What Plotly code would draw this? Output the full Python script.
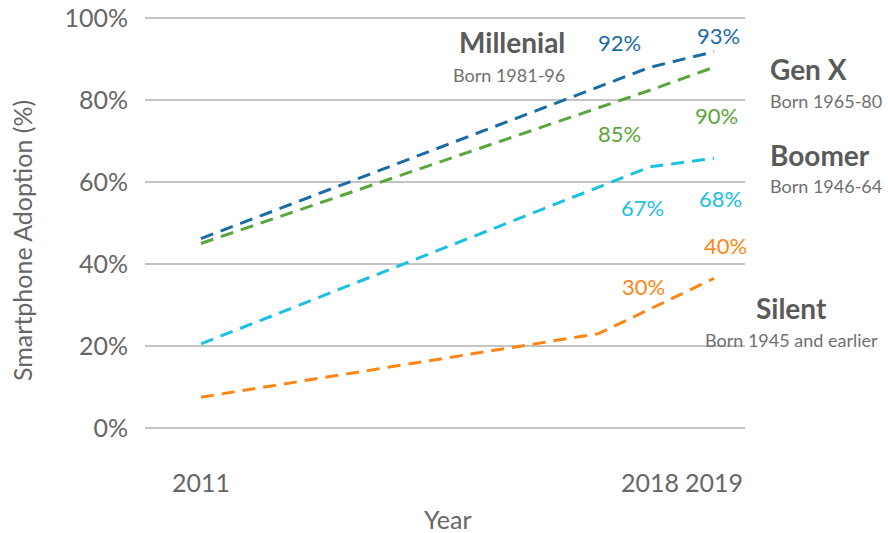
import plotly.graph_objects as go

# ---- data ----
generations = ["Millenial", "Gen X", "Boomer", "Silent"]
born = ["Born 1981-96", "Born 1965-80", "Born 1946-64", "Born 1945 and earlier"]
years_millenial = [2011, 2018, 2019]
millenial = [46.2, 88.0, 91.8]
years_genx = [2011, 2018, 2019]
genx = [45.0, 82.4, 88.0]
years_boomer = [2011, 2018, 2019]
boomer = [20.5, 63.7, 65.8]
years_silent = [2011, 2017.2, 2019]
silent = [7.5, 23.0, 36.5]
label_2018 = ["92%", "85%", "67%", "30%"]
label_2019 = ["93%", "90%", "68%", "40%"]
x_ticks = [2011, 2018, 2019]
x_tick_labels = ["2011", "2018", "2019"]
y_ticks = [0, 20, 40, 60, 80, 100]
y_tick_labels = ["0%", "20%", "40%", "60%", "80%", "100%"]

colors = ["#1a6ca6", "#5aa53c", "#1cc0e0", "#ff8615"]
FONT = "Lato"
GRAY = "#666666"

W, H = 888, 533
# plot area geometry in page pixels (used only for placing text)
L, R, T, B = 145, 745, 14, 432
X0, X1 = 2010.127, 2019.483
Y0, Y1 = -1, 101


def px_x(px):
    return X0 + (px - L) / (R - L) * (X1 - X0)


def px_y(py):
    return Y0 + (B - py) / (B - T) * (Y1 - Y0)


fig = go.Figure()
series = [(years_millenial, millenial), (years_genx, genx),
          (years_boomer, boomer), (years_silent, silent)]
for (xs, ys), name, c in zip(series, generations, colors):
    fig.add_trace(go.Scatter(x=xs, y=ys, mode="lines", name=name,
                             line=dict(color=c, width=3, dash="13px,8px"),
                             hoverinfo="skip"))

ann = []
# percentage labels
pos_2018 = [(619, 42), (619, 133), (642, 207), (643, 286)]
pos_2019 = [(718, 35), (716, 115), (720, 198), (725, 245)]
for txt, (px, py), c in zip(label_2018, pos_2018, colors):
    ann.append(dict(x=px_x(px), y=px_y(py), text=txt, showarrow=False,
                    font=dict(family=FONT, size=22, color=c), xanchor="center", yanchor="middle"))
for txt, (px, py), c in zip(label_2019, pos_2019, colors):
    ann.append(dict(x=px_x(px), y=px_y(py), text=txt, showarrow=False,
                    font=dict(family=FONT, size=22, color=c), xanchor="center", yanchor="middle"))

# generation name labels
name_pos = [(567, 42, "right"), (768, 69, "left"), (768, 155, "left"), (791, 308, "center")]
born_pos = [(567, 75, "right"), (768, 101, "left"), (768, 186, "left"), (791, 340, "center")]
for txt, (px, py, a) in zip(generations, name_pos):
    ann.append(dict(xref="paper", yref="paper",
                    x=(px - L) / (R - L), y=(B - py) / (B - T), text="<b>" + txt + "</b>",
                    showarrow=False, xanchor=a, yanchor="middle",
                    font=dict(family=FONT, size=28, color="#5a5a5a")))
for txt, (px, py, a) in zip(born, born_pos):
    ann.append(dict(xref="paper", yref="paper",
                    x=(px - L) / (R - L), y=(B - py) / (B - T), text=txt,
                    showarrow=False, xanchor=a, yanchor="middle",
                    font=dict(family=FONT, size=18, color="#707070")))

# axis titles
ann.append(dict(xref="paper", yref="paper", x=(22 - L) / (R - L), y=(B - 241) / (B - T),
                text="Smartphone Adoption (%)", textangle=-90, showarrow=False,
                xanchor="center", yanchor="middle",
                font=dict(family=FONT, size=25, color=GRAY)))
ann.append(dict(xref="paper", yref="paper", x=(448 - L) / (R - L), y=(B - 519) / (B - T),
                text="Year", showarrow=False, xanchor="center", yanchor="middle",
                font=dict(family=FONT, size=25, color=GRAY)))

fig.update_layout(
    width=W, height=H,
    margin=dict(l=L, r=W - R, t=T, b=H - B, autoexpand=False),
    paper_bgcolor="white", plot_bgcolor="white",
    showlegend=False,
    annotations=ann,
    font=dict(family=FONT, color=GRAY),
)
fig.update_xaxes(range=[X0, X1], tickvals=x_ticks, ticktext=x_tick_labels,
                 showgrid=False, zeroline=False, showline=False, ticks="",
                 tickfont=dict(family=FONT, size=25, color=GRAY),
                 ticklabelstandoff=34, ticklabeloverflow="allow")
fig.update_yaxes(range=[Y0, Y1], tickvals=y_ticks, ticktext=y_tick_labels,
                 showgrid=True, gridcolor="#c4c4c4", gridwidth=2,
                 zeroline=False, showline=False, ticks="",
                 tickfont=dict(family=FONT, size=25, color=GRAY),
                 ticklabelstandoff=16, ticklabeloverflow="allow")

fig.write_html("out.html", config={"displayModeBar": False},
               post_script="document.body.style.margin='0';document.body.style.overflow='hidden';")
